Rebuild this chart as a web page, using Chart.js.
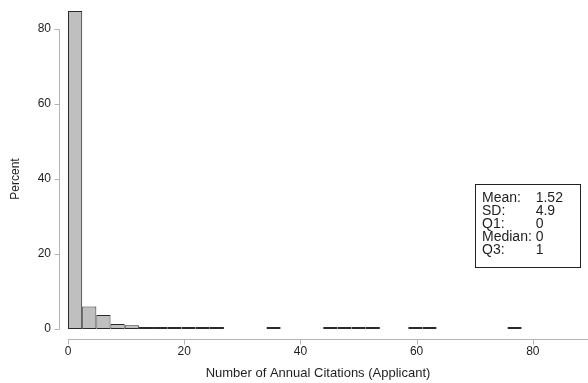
<!DOCTYPE html>
<html>
<head>
<meta charset="utf-8">
<title>Annual Citations (Applicant)</title>
<script src="https://cdn.jsdelivr.net/npm/chart.js@4.4.1/dist/chart.umd.min.js"></script>
<style>
  html, body { margin: 0; padding: 0; background: #fff; }
</style>
</head>
<body>
<canvas id="hist" width="588" height="383"></canvas>
<script>
// histogram bins: start at 0, fixed width, percent of applicants per bin
const binWidth = 2.44;
const percents = [
  84.8, 6.0, 3.7, 1.3, 1.0, 0.45, 0.3, 0.12, 0.12, 0.2, 0.08, null,
  null, null, 0.05, null, null, null, 0.05, 0.05, 0.05, 0.05, null, null,
  0.05, 0.05, null, null, null, null, null, 0.05,
];
const xTicks = [0, 20, 40, 60, 80];
const yTicks = [0, 20, 40, 60, 80];
const statLabels = ["Mean:", "SD:", "Q1:", "Median:", "Q3:"];
const statValues = ["1.52", "4.9", "0", "0", "1"];
const xTitle = "Number of Annual Citations (Applicant)";
const yTitle = "Percent";

const FONT = "'Liberation Sans', Arial, Helvetica, sans-serif";
const AXIS_GRAY = "#b4b4b4";
const INK = "#1e1e1e";

const points = percents.map((p, i) => ({ x: i * binWidth + binWidth / 2, y: p }));

// axis lines sit a few pixels away from the plot region, so they are drawn here
const framePlugin = {
  id: "frame",
  afterDraw(chart) {
    const { ctx, chartArea, scales } = chart;
    const xs = scales.x;
    const ys = scales.y;
    ctx.save();

    ctx.strokeStyle = AXIS_GRAY;
    ctx.lineWidth = 1;
    const axisX = 59.5;
    const axisY = 339.5;

    ctx.beginPath();
    ctx.moveTo(axisX, Math.round(ys.getPixelForValue(yTicks[yTicks.length - 1])) + 0.5);
    ctx.lineTo(axisX, Math.round(ys.getPixelForValue(yTicks[0])) + 0.5);
    yTicks.forEach((v) => {
      const py = Math.round(ys.getPixelForValue(v)) + 0.5;
      ctx.moveTo(axisX - 5, py);
      ctx.lineTo(axisX, py);
    });
    ctx.moveTo(Math.round(xs.getPixelForValue(xTicks[0])), axisY);
    ctx.lineTo(chartArea.right, axisY);
    xTicks.forEach((v) => {
      const px = Math.round(xs.getPixelForValue(v)) + 0.5;
      ctx.moveTo(px, axisY);
      ctx.lineTo(px, axisY + 5);
    });
    ctx.stroke();

    ctx.fillStyle = INK;
    ctx.textAlign = "center";
    ctx.textBaseline = "middle";
    ctx.font = `13px ${FONT}`;
    ctx.fillText(xTitle, 318, 373);

    ctx.font = `12px ${FONT}`;
    ctx.save();
    ctx.translate(15.5, 179);
    ctx.rotate(-Math.PI / 2);
    ctx.fillText(yTitle, 0, 0);
    ctx.restore();

    // summary statistics box
    ctx.fillStyle = "#fff";
    ctx.fillRect(475.5, 184.5, 105, 83);
    ctx.strokeStyle = "#222";
    ctx.strokeRect(475.5, 184.5, 105, 83);

    ctx.fillStyle = INK;
    ctx.font = `14px ${FONT}`;
    ctx.textAlign = "left";
    ctx.textBaseline = "alphabetic";
    const labelX = 482;
    const valueX = labelX + ctx.measureText("Median: ").width;
    statLabels.forEach((label, i) => {
      const baseline = 202 + i * 13;
      ctx.fillText(label, labelX, baseline);
      ctx.fillText(statValues[i], valueX, baseline);
    });

    ctx.restore();
  },
};

new Chart(document.getElementById("hist"), {
  type: "bar",
  data: {
    datasets: [
      {
        data: points,
        backgroundColor: "#bfbfbf",
        borderColor: "#2b2b2b",
        borderWidth: 1,
        borderSkipped: false,
        inflateAmount: 0,
        barPercentage: 1,
        categoryPercentage: 1,
        minBarLength: 2,
      },
    ],
  },
  options: {
    responsive: false,
    animation: false,
    devicePixelRatio: 1,
    layout: { padding: 0 },
    plugins: {
      legend: { display: false },
      tooltip: { enabled: false },
    },
    scales: {
      x: {
        type: "linear",
        min: 0,
        max: 89.5,
        offset: false,
        grid: { display: false, drawTicks: false },
        border: { display: false },
        afterBuildTicks: (scale) => {
          scale.ticks = xTicks.map((v) => ({ value: v }));
        },
        afterFit: (scale) => {
          scale.height = 54;
          scale.paddingLeft = 0;
          scale.paddingRight = 0;
        },
        ticks: {
          padding: 15,
          color: INK,
          maxRotation: 0,
          autoSkip: false,
          font: { family: FONT, size: 12 },
        },
      },
      y: {
        min: 0,
        max: 87.7,
        grid: { display: false, drawTicks: false },
        border: { display: false },
        afterBuildTicks: (scale) => {
          scale.ticks = yTicks.map((v) => ({ value: v }));
        },
        afterFit: (scale) => {
          scale.width = 68;
          scale.paddingTop = 0;
          scale.paddingBottom = 0;
        },
        ticks: {
          padding: 17,
          color: INK,
          font: { family: FONT, size: 12 },
        },
      },
    },
  },
  plugins: [framePlugin],
});
</script>
</body>
</html>
